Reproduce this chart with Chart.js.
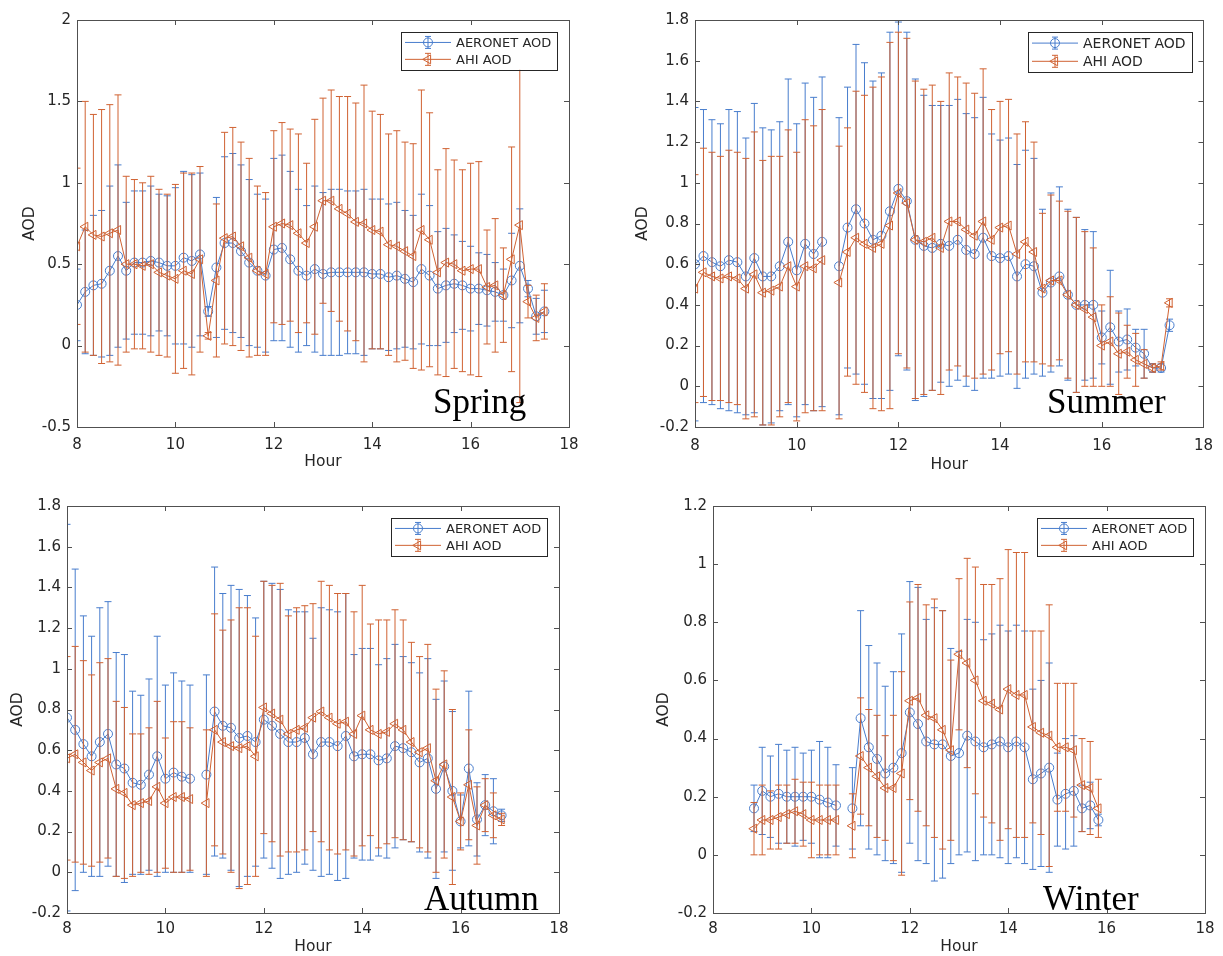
<!DOCTYPE html>
<html>
<head>
<meta charset="utf-8">
<title>AERONET vs AHI AOD by season</title>
<script src="https://cdn.jsdelivr.net/npm/chart.js@4.4.1/dist/chart.umd.min.js"></script>
<style>
  html, body { margin: 0; padding: 0; background: #fff; }
  body { position: relative; width: 1223px; height: 956px; overflow: hidden; }
  canvas { position: absolute; }
</style>
</head>
<body>
<canvas id="spring" width="600" height="478" style="left:0px;top:0px"></canvas>
<canvas id="summer" width="611" height="478" style="left:612px;top:0px"></canvas>
<canvas id="autumn" width="600" height="476" style="left:0px;top:480px"></canvas>
<canvas id="winter" width="611" height="476" style="left:612px;top:480px"></canvas>
<script>
// 10-minute slots shared by every panel
const timeSlots = [
  '8:00','8:10','8:20','8:30','8:40','8:50',
  '9:00','9:10','9:20','9:30','9:40','9:50',
  '10:00','10:10','10:20','10:30','10:40','10:50',
  '11:00','11:10','11:20','11:30','11:40','11:50',
  '12:00','12:10','12:20','12:30','12:40','12:50',
  '13:00','13:10','13:20','13:30','13:40','13:50',
  '14:00','14:10','14:20','14:30','14:40','14:50',
  '15:00','15:10','15:20','15:30','15:40','15:50',
  '16:00','16:10','16:20','16:30','16:40','16:50',
  '17:00','17:10','17:20','17:30'
];

// Spring
const springAeronet = [
  0.25,0.33,0.37,0.38,0.46,0.55,0.46,0.51,0.51,0.52,
  0.51,0.49,0.49,0.54,0.52,0.56,0.21,0.48,0.63,0.63,
  0.58,0.51,0.46,0.43,0.59,0.60,0.53,0.46,0.43,0.47,
  0.44,0.45,0.45,0.45,0.45,0.45,0.44,0.44,0.42,0.43,
  0.41,0.39,0.47,0.43,0.35,0.37,0.38,0.37,0.35,0.35,
  0.34,0.33,0.31,0.40,0.49,0.35,0.18,0.21];
const springAeronetSd = [
  0.22,0.38,0.43,0.45,0.52,0.56,0.42,0.44,0.44,0.46,
  0.42,0.43,0.48,0.53,0.53,0.50,0.03,0.43,0.53,0.55,
  0.53,0.51,0.47,0.47,0.56,0.57,0.54,0.50,0.43,0.51,
  0.50,0.51,0.51,0.50,0.50,0.51,0.46,0.46,0.45,0.45,
  0.42,0.41,0.46,0.43,0.35,0.35,0.30,0.27,0.26,0.22,
  0.22,0.18,0.16,0.29,0.35,0.05,0.11,0.13];
const springAhi = [
  0.61,0.73,0.68,0.67,0.69,0.71,0.50,0.50,0.49,0.50,
  0.45,0.43,0.41,0.46,0.44,0.53,0.06,0.40,0.66,0.67,
  0.61,0.54,0.46,0.44,0.73,0.75,0.74,0.69,0.63,0.73,
  0.89,0.89,0.84,0.81,0.76,0.75,0.71,0.70,0.62,0.61,
  0.58,0.55,0.71,0.65,0.45,0.51,0.50,0.46,0.47,0.47,
  0.36,0.37,0.31,0.53,0.74,0.27,0.17,0.21];
const springAhiSd = [
  0.48,0.77,0.74,0.78,0.79,0.83,0.54,0.52,0.51,0.54,
  0.51,0.50,0.58,0.60,0.62,0.57,0.02,0.47,0.65,0.67,
  0.64,0.61,0.52,0.50,0.59,0.62,0.59,0.61,0.49,0.66,
  0.63,0.68,0.69,0.72,0.73,0.85,0.73,0.72,0.68,0.71,
  0.67,0.69,0.86,0.78,0.63,0.70,0.64,0.62,0.65,0.66,
  0.35,0.41,0.29,0.69,1.09,0.10,0.14,0.17];

// Summer
const summerAeronet = [
  0.60,0.64,0.61,0.59,0.62,0.61,0.54,0.63,0.54,0.54,
  0.59,0.71,0.57,0.70,0.65,0.71,null,0.59,0.78,0.87,
  0.80,0.72,0.74,0.86,0.97,0.91,0.72,0.69,0.68,0.70,
  0.69,0.72,0.67,0.65,0.73,0.64,0.63,0.64,0.54,0.60,
  0.59,0.46,0.51,0.54,0.45,0.40,0.40,0.40,0.24,0.29,
  0.22,0.23,0.19,0.16,0.09,0.09,0.30,null];
const summerAeronetSd = [
  0.77,0.72,0.70,0.70,0.74,0.74,0.68,0.76,0.73,0.72,
  0.71,0.80,0.72,0.79,0.77,0.81,null,0.73,0.69,0.81,
  0.79,0.78,0.80,0.88,0.82,0.83,0.79,0.74,0.70,0.68,
  0.69,0.69,0.67,0.67,0.69,0.60,0.58,0.58,0.55,0.56,
  0.53,0.41,0.44,0.44,0.42,0.43,0.37,0.36,0.13,0.28,
  0.15,0.15,0.09,0.12,0.02,0.02,0.03,null];
const summerAhi = [
  0.48,0.56,0.54,0.53,0.54,0.53,0.48,0.55,0.46,0.47,
  0.49,0.59,0.49,0.59,0.58,0.62,null,0.51,0.66,0.73,
  0.70,0.68,0.70,0.79,0.95,0.90,0.72,0.71,0.73,0.68,
  0.81,0.81,0.77,0.74,0.81,0.72,0.78,0.79,0.65,0.71,
  0.66,0.48,0.52,0.52,0.45,0.40,0.38,0.34,0.20,0.22,
  0.16,0.17,0.13,0.11,0.09,0.10,0.41,null];
const summerAhiSd = [
  0.56,0.61,0.61,0.60,0.62,0.62,0.64,0.70,0.65,0.66,
  0.64,0.67,0.66,0.72,0.70,0.74,null,0.67,0.61,0.72,
  0.73,0.79,0.82,0.90,0.79,0.81,0.78,0.75,0.75,0.72,
  0.73,0.71,0.72,0.70,0.75,0.64,0.62,0.62,0.59,0.59,
  0.54,0.37,0.42,0.39,0.41,0.43,0.38,0.34,0.20,0.22,
  0.20,0.13,0.13,0.07,0.02,0.02,0.02,null];

// Autumn
const autumnAeronet = [
  0.76,0.70,0.63,0.57,0.64,0.68,0.53,0.51,0.44,0.43,
  0.48,0.57,0.46,0.49,0.47,0.46,null,0.48,0.79,0.72,
  0.71,0.66,0.67,0.64,0.75,0.72,0.68,0.64,0.64,0.66,
  0.58,0.64,0.64,0.62,0.67,0.57,0.58,0.58,0.55,0.56,
  0.62,0.61,0.59,0.54,0.56,0.41,0.52,0.40,0.25,0.51,
  0.26,0.33,0.30,0.28,null,null,null,null];
const autumnAeronetSd = [
  0.95,0.79,0.63,0.59,0.66,0.65,0.55,0.56,0.45,0.44,
  0.47,0.59,0.46,0.49,0.47,0.46,null,0.49,0.71,0.65,
  0.70,0.73,0.69,0.61,0.68,0.70,0.71,0.65,0.64,0.62,
  0.57,0.66,0.65,0.66,0.70,0.50,0.52,0.52,0.47,0.49,
  0.50,0.45,0.44,0.44,0.49,0.44,0.42,0.39,0.13,0.38,
  0.18,0.15,0.16,0.03,null,null,null,null];
const autumnAhi = [
  0.56,0.58,0.54,0.50,0.54,0.56,0.41,0.39,0.33,0.34,
  0.35,0.42,0.34,0.37,0.37,0.36,null,0.34,0.70,0.64,
  0.62,0.61,0.62,0.57,0.81,0.78,0.75,0.68,0.70,0.71,
  0.76,0.79,0.76,0.73,0.74,0.68,0.77,0.70,0.68,0.69,
  0.73,0.70,0.64,0.59,0.61,0.45,0.53,0.37,0.25,0.43,
  0.23,0.33,0.28,0.26,null,null,null,null];
const autumnAhiSd = [
  0.50,0.53,0.50,0.47,0.49,0.49,0.43,0.42,0.35,0.34,
  0.36,0.42,0.32,0.37,0.37,0.35,null,0.36,0.57,0.55,
  0.62,0.69,0.68,0.59,0.62,0.63,0.67,0.58,0.60,0.60,
  0.56,0.64,0.65,0.64,0.63,0.60,0.64,0.52,0.56,0.55,
  0.56,0.54,0.49,0.47,0.51,0.45,0.46,0.43,0.14,0.27,
  0.19,0.13,0.11,0.03,null,null,null,null];

// Winter
const winterAeronet = [
  null,null,null,null,null,0.16,0.22,0.20,0.21,0.20,
  0.20,0.20,0.20,0.19,0.18,0.17,null,0.16,0.47,0.37,
  0.33,0.28,0.30,0.35,0.49,0.45,0.39,0.38,0.38,0.34,
  0.35,0.41,0.39,0.37,0.38,0.39,0.37,0.39,0.37,0.26,
  0.28,0.30,0.19,0.21,0.22,0.16,0.17,0.12,null,null,
  null,null,null,null,null,null,null,null];
const winterAeronetSd = [
  null,null,null,null,null,0.08,0.15,0.14,0.17,0.16,
  0.17,0.15,0.16,0.20,0.19,0.14,null,0.14,0.37,0.35,
  0.33,0.30,0.33,0.41,0.45,0.47,0.42,0.47,0.46,0.37,
  0.35,0.40,0.41,0.37,0.38,0.40,0.40,0.40,0.40,0.31,
  0.32,0.36,0.16,0.19,0.19,0.08,0.08,0.02,null,null,
  null,null,null,null,null,null,null,null];
const winterAhi = [
  null,null,null,null,null,0.09,0.12,0.12,0.13,0.14,
  0.15,0.14,0.12,0.12,0.12,0.12,null,0.10,0.34,0.30,
  0.27,0.23,0.23,0.28,0.53,0.54,0.48,0.47,0.43,0.36,
  0.69,0.66,0.60,0.53,0.52,0.50,0.57,0.55,0.55,0.44,
  0.42,0.41,0.37,0.37,0.36,0.24,0.23,0.16,null,null,
  null,null,null,null,null,null,null,null];
const winterAhiSd = [
  null,null,null,null,null,0.09,0.12,0.10,0.11,0.10,
  0.11,0.11,0.13,0.12,0.12,0.12,null,0.11,0.20,0.20,
  0.21,0.18,0.25,0.35,0.34,0.39,0.38,0.41,0.41,0.31,
  0.26,0.36,0.39,0.40,0.41,0.45,0.48,0.49,0.49,0.33,
  0.35,0.45,0.22,0.22,0.23,0.16,0.16,0.10,null,null,
  null,null,null,null,null,null,null,null];

const AXIS_FONT = "'DejaVu Sans', 'Liberation Sans', sans-serif";
const SEASON_FONT = "'Liberation Serif', 'Times New Roman', serif";
const BLUE = 'rgb(72,125,205)';
const ORANGE = 'rgb(208,98,50)';
const INK = '#262626';

function slotToHour(s) {
  const parts = s.split(':');
  return Number(parts[0]) + Number(parts[1]) / 60;
}

function pointsFor(values) {
  return timeSlots.map((t, i) => ({ x: slotToHour(t), y: values[i] }));
}

// error bars, matlab style box with inward ticks, legend and season name
const matlabLook = {
  id: 'matlabLook',
  beforeDatasetDraw(chart, args) {
    const ds = chart.data.datasets[args.index];
    const sd = ds.sd;
    if (!sd) return;
    const { ctx, chartArea: a, scales: { x, y } } = chart;
    ctx.save();
    ctx.beginPath();
    ctx.rect(a.left, a.top, a.right - a.left, a.bottom - a.top);
    ctx.clip();
    ctx.strokeStyle = ds.borderColor;
    ctx.lineWidth = 1;
    ctx.beginPath();
    ds.data.forEach((p, i) => {
      if (p.y == null || sd[i] == null) return;
      const px = x.getPixelForValue(p.x);
      const top = y.getPixelForValue(p.y + sd[i]);
      const bot = y.getPixelForValue(p.y - sd[i]);
      ctx.moveTo(px, top); ctx.lineTo(px, bot);
      ctx.moveTo(px - 3.5, top); ctx.lineTo(px + 3.5, top);
      ctx.moveTo(px - 3.5, bot); ctx.lineTo(px + 3.5, bot);
    });
    ctx.stroke();
    ctx.restore();
  },
  afterDraw(chart, args, opts) {
    const { ctx, chartArea: a, scales: { x, y } } = chart;
    ctx.save();
    // axes box
    ctx.strokeStyle = '#505050';
    ctx.lineWidth = 1;
    ctx.strokeRect(Math.round(a.left) + 0.5, Math.round(a.top) + 0.5,
      Math.round(a.right - a.left), Math.round(a.bottom - a.top));
    ctx.beginPath();
    x.ticks.forEach(t => {
      const px = Math.round(x.getPixelForValue(t.value)) + 0.5;
      ctx.moveTo(px, a.bottom); ctx.lineTo(px, a.bottom - 5);
      ctx.moveTo(px, a.top); ctx.lineTo(px, a.top + 5);
    });
    y.ticks.forEach(t => {
      const py = Math.round(y.getPixelForValue(t.value)) + 0.5;
      ctx.moveTo(a.left, py); ctx.lineTo(a.left + 5, py);
      ctx.moveTo(a.right, py); ctx.lineTo(a.right - 5, py);
    });
    ctx.stroke();

    // legend
    const size = opts.legendSize;
    ctx.font = size + 'px ' + AXIS_FONT;
    const sets = chart.data.datasets;
    const tw = Math.max(...sets.map(d => ctx.measureText(d.label).width));
    const rowH = size * 1.3;
    const w = 55 + tw + 6;
    const h = rowH * 2 + 4;
    const lx = Math.round(a.right - 12 - w);
    const ly = Math.round(a.top + 12);
    ctx.fillStyle = '#fff';
    ctx.fillRect(lx, ly, w, h);
    ctx.strokeStyle = INK;
    ctx.strokeRect(lx + 0.5, ly + 0.5, Math.round(w), Math.round(h));
    sets.forEach((d, r) => {
      const cy = ly + 2 + rowH * (r + 0.5);
      const mx = lx + 27;
      ctx.strokeStyle = d.borderColor;
      ctx.lineWidth = 1;
      ctx.beginPath();
      ctx.moveTo(lx + 4, cy); ctx.lineTo(lx + 50, cy);
      ctx.moveTo(mx, cy - 6); ctx.lineTo(mx, cy + 6);
      ctx.moveTo(mx - 3, cy - 6); ctx.lineTo(mx + 3, cy - 6);
      ctx.moveTo(mx - 3, cy + 6); ctx.lineTo(mx + 3, cy + 6);
      ctx.stroke();
      ctx.fillStyle = 'rgba(0,0,0,0)';
      Chart.helpers.drawPoint(ctx, {
        pointStyle: d.pointStyle, rotation: d.pointRotation || 0,
        radius: d.pointRadius, borderWidth: 1
      }, mx, cy);
      ctx.fillStyle = INK;
      ctx.textBaseline = 'middle';
      ctx.textAlign = 'left';
      ctx.fillText(d.label, lx + 55, cy + 1);
    });

    // season name
    ctx.font = '35px ' + SEASON_FONT;
    ctx.fillStyle = '#000';
    ctx.textBaseline = 'alphabetic';
    ctx.fillText(opts.season, a.left + opts.seasonDx, a.bottom - opts.seasonDy);
    ctx.restore();
  }
};

const panels = [
  { id: 'spring', season: 'Spring', w: 600, h: 478,
    area: { left: 77, top: 20, right: 569, bottom: 427 },
    yMin: -0.5, yMax: 2, yStep: 0.5,
    aeronet: springAeronet, aeronetSd: springAeronetSd, ahi: springAhi, ahiSd: springAhiSd,
    aodPad: 20.7, hourPad: 6.7, xTickPad: 9, seasonDx: 356, seasonDy: 14, legendSize: 13 },
  { id: 'summer', season: 'Summer', w: 611, h: 478,
    area: { left: 83, top: 20, right: 600, bottom: 427 },
    yMin: -0.2, yMax: 1.8, yStep: 0.2,
    aeronet: summerAeronet, aeronetSd: summerAeronetSd, ahi: summerAhi, ahiSd: summerAhiSd,
    aodPad: 21.7, hourPad: 3.7, xTickPad: 10, seasonDx: 352, seasonDy: 14, legendSize: 14 },
  { id: 'autumn', season: 'Autumn', w: 600, h: 476,
    area: { left: 67, top: 26, right: 559, bottom: 433 },
    yMin: -0.2, yMax: 1.8, yStep: 0.2,
    aeronet: autumnAeronet, aeronetSd: autumnAeronetSd, ahi: autumnAhi, ahiSd: autumnAhiSd,
    aodPad: 8.7, hourPad: 0, xTickPad: 7, seasonDx: 357, seasonDy: 3, legendSize: 13 },
  { id: 'winter', season: 'Winter', w: 611, h: 476,
    area: { left: 101, top: 26, right: 593, bottom: 433 },
    yMin: -0.2, yMax: 1.2, yStep: 0.2,
    aeronet: winterAeronet, aeronetSd: winterAeronetSd, ahi: winterAhi, ahiSd: winterAhiSd,
    aodPad: 42.7, hourPad: 0, xTickPad: 7, seasonDx: 330, seasonDy: 3, legendSize: 13 }
];

function makeChart(p) {
  const tickFont = { family: AXIS_FONT, size: 15 };
  const titleFont = { family: AXIS_FONT, size: 15.5 };
  return new Chart(document.getElementById(p.id), {
    type: 'line',
    data: {
      datasets: [
        { label: 'AERONET AOD', data: pointsFor(p.aeronet), sd: p.aeronetSd,
          borderColor: BLUE, pointBorderColor: BLUE, pointBackgroundColor: 'rgba(0,0,0,0)',
          pointStyle: 'circle', pointRadius: 4.5, pointBorderWidth: 1,
          borderWidth: 1, spanGaps: false, order: 1 },
        { label: 'AHI AOD', data: pointsFor(p.ahi), sd: p.ahiSd,
          borderColor: ORANGE, pointBorderColor: ORANGE, pointBackgroundColor: 'rgba(0,0,0,0)',
          pointStyle: 'triangle', pointRotation: -90, pointRadius: 5.2, pointBorderWidth: 1,
          borderWidth: 1, spanGaps: false, order: 0 }
      ]
    },
    options: {
      responsive: false,
      animation: false,
      devicePixelRatio: 1,
      events: [],
      layout: { padding: { top: p.area.top, right: p.w - p.area.right, left: 0, bottom: 0 } },
      elements: { line: { tension: 0, fill: false } },
      plugins: {
        legend: { display: false },
        tooltip: { enabled: false },
        matlabLook: { season: p.season, seasonDx: p.seasonDx, seasonDy: p.seasonDy, legendSize: p.legendSize }
      },
      scales: {
        x: {
          type: 'linear', min: 8, max: 18,
          ticks: { stepSize: 2, padding: p.xTickPad, color: INK, font: tickFont, maxRotation: 0 },
          grid: { display: false, drawTicks: false },
          border: { display: false },
          title: { display: true, text: 'Hour', color: INK, font: titleFont,
                   padding: { top: 0, bottom: p.hourPad } },
          afterFit(s) { s.height = p.h - p.area.bottom; }
        },
        y: {
          type: 'linear', min: p.yMin, max: p.yMax,
          ticks: { stepSize: p.yStep, padding: 6, color: INK, font: tickFont,
                   callback: v => String(Number(v.toFixed(1))) },
          grid: { display: false, drawTicks: false },
          border: { display: false },
          title: { display: true, text: 'AOD', color: INK, font: titleFont,
                   padding: { top: p.aodPad, bottom: 0 } },
          afterFit(s) { s.width = p.area.left; }
        }
      }
    },
    plugins: [matlabLook]
  });
}

panels.forEach(makeChart);
</script>
</body>
</html>
